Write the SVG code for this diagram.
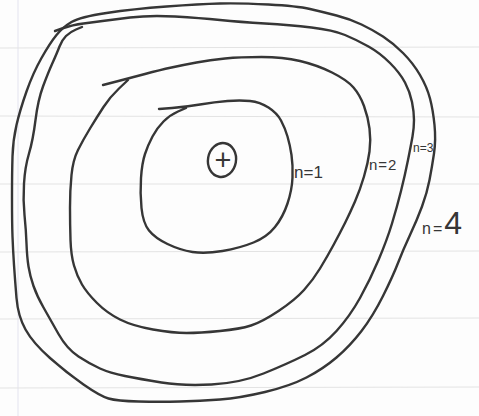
<svg xmlns="http://www.w3.org/2000/svg" width="479" height="416" viewBox="0 0 479 416">
<style>
.paper{stroke:#e3e3e3;stroke-width:1;fill:none}
.margin{stroke:#e8e8f2;stroke-width:1.2;fill:none}
.ink{stroke:#363636;stroke-width:2.4;fill:none;stroke-linecap:round;stroke-linejoin:round}
.lbl{font-family:"Liberation Sans",Arial,sans-serif;fill:#363636}
</style>
<rect width="479" height="416" fill="#fdfdfd"/>
<g id="paper">
<line class="margin" x1="18" y1="0" x2="18" y2="416"/>
<line class="paper" x1="0" y1="48" x2="479" y2="47"/>
<line class="paper" x1="0" y1="116" x2="479" y2="117"/>
<line class="paper" x1="0" y1="184" x2="479" y2="184"/>
<line class="paper" x1="0" y1="252" x2="479" y2="251"/>
<line class="paper" x1="0" y1="319" x2="479" y2="318"/>
<line class="paper" x1="0" y1="388" x2="479" y2="387"/>
</g>
<g id="shells">
<path id="shell-n1" class="ink" d="M159,109 L172,108 Q185,107 200,104.5 Q215,102 227.5,101 Q240,100 250,101 Q260,102 268.5,107.5 Q277,113 281,120.5 Q285,128 287.5,136.5 Q290,145 291.5,155 Q293,165 292.5,177.5 Q292,190 287.5,203.5 Q283,217 275,227 Q267,237 253.5,242.5 Q240,248 222.5,251 Q205,254 192.5,252 Q180,250 167.5,244 Q155,238 149,230.5 Q143,223 141.5,208 Q140,193 141,178 Q142,163 145,154 Q148,145 152.5,136.5 Q157,128 163.5,121.5 Q170,115 178,111.5 L186,108"/>
<path id="shell-n2" class="ink" d="M103,85 L116.5,81.5 Q130,78 145,74 Q160,70 171.5,67.5 Q183,65 196.5,62.5 Q210,60 225,58.5 Q240,57 261.5,57 Q283,57 300,61 Q317,65 332,72.5 Q347,80 353.5,87.5 Q360,95 364,106 Q368,117 369.5,128.5 Q371,140 369.5,151.5 Q368,163 364,176.5 Q360,190 355,201.5 Q350,213 345,223 Q340,233 333.5,245 Q327,257 320,268.5 Q313,280 304,290 Q295,300 278.5,311 Q262,322 251,325.5 Q240,329 220,331 Q200,333 186.5,333 Q173,333 153,329.5 Q133,326 120,319.5 Q107,313 97,303 Q87,293 82,284.5 Q77,276 74,265.5 Q71,255 70.5,240 Q70,225 70,207.5 Q70,190 71.5,175 Q73,160 78,150 Q83,140 90,128.5 Q97,117 103.5,107 Q110,97 119,88.5 L128,80"/>
<path id="shell-n3" class="ink" d="M55,31 L63.5,28 Q72,25 83.5,23.5 Q95,22 102.5,21 Q110,20 130,17.5 Q150,15 175,16.5 Q200,18 220,20 Q240,22 265,23.5 Q290,25 311.5,27.5 Q333,30 345,35 Q357,40 368.5,46.5 Q380,53 390,63 Q400,73 405,82.5 Q410,92 412,102 Q414,112 414,120 Q414,128 412.5,136.5 Q411,145 408,160 Q405,175 401,191 Q397,207 392,223.5 Q387,240 378.5,260 Q370,280 360,298 Q350,316 336.5,331 Q323,346 305,355 Q287,364 263.5,373.5 Q240,383 211.5,384.5 Q183,386 161.5,382.5 Q140,379 125,376 Q110,373 100,368.5 Q90,364 78.5,356.5 Q67,349 58.5,334 Q50,319 43.5,307.5 Q37,296 33.5,286 Q30,276 28.5,266.5 Q27,257 26.5,243.5 Q26,230 24.5,215 Q23,200 24,183.5 Q25,167 29,153.5 Q33,140 35.5,120 Q38,100 43,86.5 Q48,73 52.5,63 Q57,53 59.5,46.5 Q62,40 66,36 Q70,32 76,29.5 L82,27"/>
<path id="shell-n4" class="ink" d="M56.5,35 Q63,27 71.5,22 Q80,17 106.5,13 Q133,9 166.5,6.5 Q200,4 220,3.5 Q240,3 268.5,4.5 Q297,6 310,9 Q323,12 336.5,15.5 Q350,19 361.5,24.5 Q373,30 383,36.5 Q393,43 403,53 Q413,63 420,75 Q427,87 430,98.5 Q433,110 434.5,125 Q436,140 434,153.5 Q432,167 429.5,180 Q427,193 422,206.5 Q417,220 410,235 Q403,250 398,263 Q393,276 383,296 Q373,316 361.5,331 Q350,346 336.5,357.5 Q323,369 306.5,377.5 Q290,386 265,392 Q240,398 220,399.5 Q200,401 180,401.5 Q160,402 138.5,401.5 Q117,401 108.5,398.5 Q100,396 83.5,384.5 Q67,373 50,358 Q33,343 25.5,329.5 Q18,316 16.5,298 Q15,280 14,265 Q13,250 12.5,236.5 Q12,223 12,198 Q12,173 12.5,156.5 Q13,140 16.5,125 Q20,110 26.5,91.5 Q33,73 41.5,58 Q50,43 56.5,35 Z"/>
</g>
<g id="nucleus">
<ellipse class="ink" cx="222" cy="160" rx="14" ry="17" transform="rotate(10 222 160)"/>
<text class="lbl" x="223" y="170" font-size="29" text-anchor="middle">+</text>
</g>
<g id="labels">
<text class="lbl" x="294" y="178" font-size="17">n=1</text>
<text class="lbl" x="369" y="170" font-size="15" letter-spacing="1">n=2</text>
<text class="lbl" x="413" y="152" font-size="12">n=3</text>
<text class="lbl" x="422" y="234" font-size="16" letter-spacing="2">n=<tspan font-size="32">4</tspan></text>
</g>
</svg>
